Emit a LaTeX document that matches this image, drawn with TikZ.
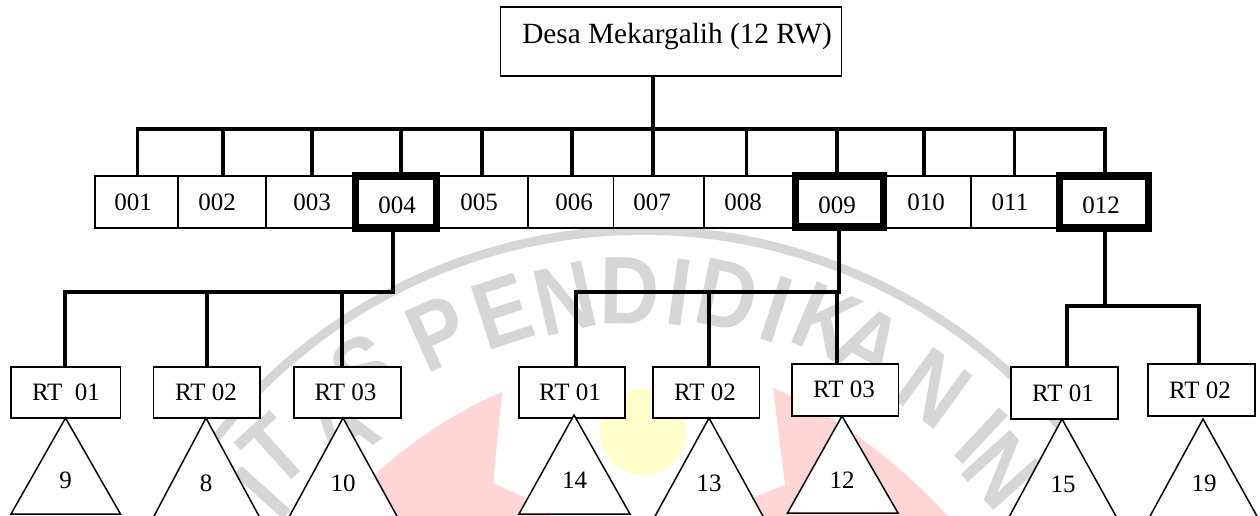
\documentclass[tikz,border=0pt]{standalone}
\usepackage{fontspec}
\setmainfont{Liberation Serif}
\newfontfamily\wmfont{Liberation Sans}[Scale=1]
\definecolor{wmgray}{HTML}{D6D6D6}
\definecolor{wmred}{HTML}{FFD5D5}
\definecolor{wmyellow}{HTML}{FFFFCC}
\tikzset{
  thinbox/.style={draw=black,fill=white,line width=1.5pt,rectangle,inner sep=0pt,outer sep=0pt},
  thickbox/.style={draw=black,fill=white,line width=7.5pt,rectangle,inner sep=0pt,outer sep=0pt},
  lbl/.style={inner sep=0pt,outer sep=0pt,font=\fontsize{25}{30}\selectfont,text height=17pt,text depth=0pt,black},
  wire/.style={draw=black,line width=3.4pt,line join=miter},
  tri/.style={draw=black,fill=white,line width=1.5pt,line join=miter},
  wmletter/.style={inner sep=0pt,outer sep=0pt,text=wmgray,font=\wmfont\bfseries\fontsize{96}{100}\selectfont,text height=69pt,text depth=0pt},
}
% name, x1, x2, y1, y2, style, text x, text y, text
\newcommand{\labbox}[9]{%
  \node[#6,minimum width={(#3-#2)*1pt},minimum height={(#5-#4)*1pt}] (#1) at ({(#2+#3)/2},{(#4+#5)/2}) {};
  \node[lbl] (#1-t) at (#7,#8) {#9};
}
% name, apex x, apex y, left x, right x, base y, text x, text y, text
\newcommand{\trinode}[9]{%
  \coordinate (#1-a) at (#2,#3);
  \coordinate (#1-l) at (#4,#6);
  \coordinate (#1-r) at (#5,#6);
  \draw[tri] (#1-a) -- (#1-r) -- (#1-l) -- cycle;
  \node[lbl] (#1-t) at (#7,#8) {#9};
}
\newcommand{\wml}[4]{\node[wmletter,rotate=#4,xscale=0.86] at (#1,#2) {#3};}
\begin{document}
\begin{tikzpicture}[x=1pt,y=-1pt]
\useasboundingbox (0,0) rectangle (1260,515);
\begin{scope}
\clip (0,0) rectangle (1260,515);
% watermark
\fill[wmyellow] (643,432) circle[radius=43];
\fill[wmred] (502,392) .. controls (447,415) and (380,460) .. (320,530) -- (570,530) -- (525,498) -- (493,483) -- cycle;
\fill[wmred] (773,388) .. controls (830,412) and (900,460) .. (960,530) -- (725,530) -- (755,497) -- (785,485) -- cycle;
\draw[wmgray,line width=9pt] plot[domain=-146:-38,samples=80] ({642.6+541.9*cos(\x)},{772.2+541.9*sin(\x)});
\wml{262}{492}{I}{48}
\wml{273}{450}{T}{42}
\wml{340}{427}{A}{36}
\wml{363}{370}{S}{30}
\wml{438}{332}{P}{24}
\wml{502}{310}{E}{18}
\wml{565}{297}{N}{13}
\wml{630}{290}{D}{-1}
\wml{680}{291}{I}{-8}
\wml{728}{294}{D}{-12}
\wml{777}{308}{I}{-18}
\wml{827}{320}{K}{-23}
\wml{870}{343}{A}{-29}
\wml{935}{387}{N}{-36}
\wml{982}{435}{I}{-43}
\wml{1003}{470}{N}{-48}
% top
\node[thinbox,minimum width=341pt,minimum height=69pt] (top) at (671,41.5) {};
\node[inner sep=0pt,outer sep=0pt,anchor=base,font=\fontsize{29.3}{32}\selectfont] (top-t) at (677,43) {Desa Mekargalih (12 RW)};
% RW row thin
\labbox{b001}{95}{178}{176}{228}{thinbox}{133}{202}{001}
\labbox{b002}{178}{266}{176}{228}{thinbox}{217}{202}{002}
\labbox{b003}{266}{355}{176}{228}{thinbox}{312}{202}{003}
\labbox{b005}{437}{528}{176}{228}{thinbox}{479}{202}{005}
\labbox{b006}{528}{613.5}{176}{228}{thinbox}{574}{202}{006}
\labbox{b007}{613.5}{704}{176}{228}{thinbox}{652}{202}{007}
\labbox{b008}{704}{795}{176}{228}{thinbox}{743}{202}{008}
\labbox{b010}{884}{971}{176}{228}{thinbox}{926}{202}{010}
\labbox{b011}{971}{1059}{176}{228}{thinbox}{1010}{202}{011}
\labbox{b004}{355.5}{436.5}{176}{228}{thickbox}{397}{205}{004}
\labbox{b009}{795.5}{883.5}{176}{227}{thickbox}{837}{205}{009}
\labbox{b012}{1059.5}{1148.5}{176}{228}{thickbox}{1101}{205}{012}
% top bus
\coordinate (busL) at (137.5,129);
\coordinate (busR) at (1105,129);
\coordinate (stemT) at (653,129);
\draw[wire] (stemT |- top.south) -- (653,173);
\draw[wire] (busL |- b001.north) -- (busL) -- (busR) -- (busR |- b012.north);
\foreach \dx/\bn in {223/b002,312/b003,401/b004,482/b005,572/b006,653/b007,746.5/b008,837/b009,924/b010,1014.5/b011}{
  \draw[wire] (\dx,129) -- (\dx,176);
}
% 004 branch
\labbox{r1}{11}{120.5}{367}{418}{thinbox}{66}{392}{RT\ \ 01}
\labbox{r2}{153.5}{260}{367}{418}{thinbox}{206}{392}{RT 02}
\labbox{r3}{294}{401}{367}{418}{thinbox}{345.5}{392}{RT 03}
\coordinate (j4) at (393,292);
\coordinate (j4l) at (65,292);
\draw[wire] (393,232) -- (j4) -- (j4l) -- (j4l |- r1.north);
\draw[wire] (207,292) -- (207,367);
\draw[wire] (342,292) -- (342,367);
% 009 branch
\labbox{r4}{519}{625}{367}{418}{thinbox}{570}{392}{RT 01}
\labbox{r5}{653}{759.5}{367}{418}{thinbox}{705}{392}{RT 02}
\labbox{r6}{792}{898.5}{364}{416}{thinbox}{844}{389}{RT 03}
\coordinate (j9) at (839,292);
\coordinate (j9l) at (576,292);
\draw[wire] (839,230) -- (j9) -- (j9l) -- (j9l |- r4.north);
\draw[wire] (709,292) -- (709,367);
\draw[wire] (837,292) -- (837,364);
% 012 branch
\labbox{r7}{1011}{1118}{367}{419}{thinbox}{1063}{393}{RT 01}
\labbox{r8}{1148}{1255}{364}{416}{thinbox}{1200}{390}{RT 02}
\coordinate (j12) at (1105,306);
\coordinate (j12l) at (1067,306);
\coordinate (j12r) at (1199,306);
\draw[wire] (1105,232) -- (j12);
\draw[wire] (j12l |- r7.north) -- (j12l) -- (j12r) -- (j12r |- r8.north);
% triangles
\trinode{t1}{65.5}{418}{11}{120.5}{514}{65.5}{480}{9}
\trinode{t2}{206}{418}{153}{260}{518}{206}{483}{8}
\trinode{t3}{343}{418}{288.5}{398}{518}{343}{483}{10}
\trinode{t4}{574}{415}{519}{630}{514}{574.5}{480}{14}
\trinode{t5}{709}{418}{654}{764}{518}{709}{483}{13}
\trinode{t6}{842}{416}{787.5}{898}{513}{842}{480}{12}
\trinode{t7}{1062}{419}{1008.5}{1117}{518}{1063}{484}{15}
\trinode{t8}{1203}{419}{1149}{1258}{518}{1204}{483}{19}
\end{scope}
\end{tikzpicture}
\end{document}
